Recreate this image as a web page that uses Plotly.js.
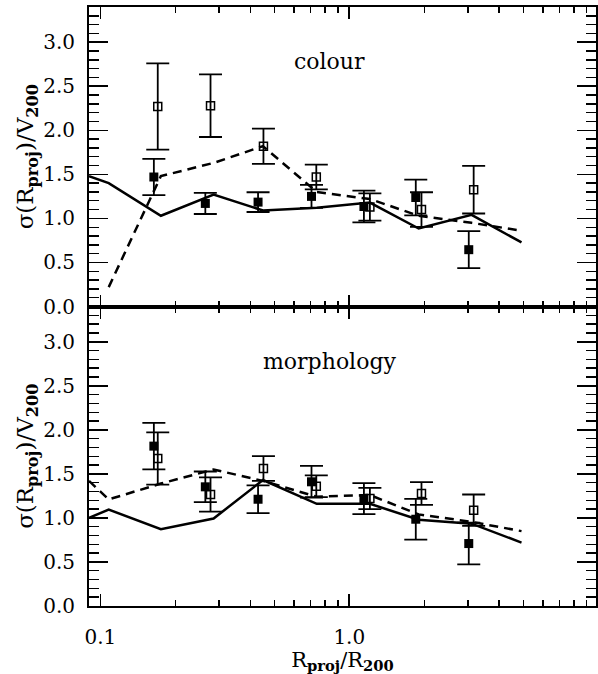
<!DOCTYPE html>
<html>
<head>
<meta charset="utf-8">
<script src="https://cdn.plot.ly/plotly-3.0.1.min.js"></script>
<style>html,body{margin:0;padding:0;background:#fff;}#chart{width:598px;height:674px;}</style>
</head>
<body>
<div id="chart"></div>
<script>
// ---- data ----
var xModel = [0.09, 0.108, 0.175, 0.285, 0.45, 0.74, 1.21, 1.9, 3.1, 4.92];
var colourSolid  = [1.48, 1.40, 1.03, 1.27, 1.09, 1.12, 1.18, 0.885, 1.04, 0.727];
var colourDashed = [null, 0.22, 1.48, 1.63, 1.82, 1.30, 1.22, 1.03, 0.95, 0.86];
var morphSolid   = [1.00, 1.095, 0.872, 0.993, 1.43, 1.16, 1.16, 0.98, 0.935, 0.72];
var morphDashed  = [1.42, 1.21, 1.39, 1.55, 1.42, 1.24, 1.26, 1.04, 0.955, 0.85];

var xFilled = [0.164, 0.264, 0.430, 0.705, 1.145, 1.85, 3.02];
var xOpen   = [0.170, 0.277, 0.452, 0.737, 1.21, 1.95, 3.16];

var colourFilled    = [1.47, 1.17, 1.185, 1.25, 1.135, 1.237, 0.645];
var colourFilledErr = [0.206, 0.12, 0.112, 0.13, 0.18, 0.203, 0.21];
var colourOpen      = [2.27, 2.28, 1.82, 1.47, 1.13, 1.10, 1.326];
var colourOpenErr   = [0.49, 0.356, 0.20, 0.14, 0.155, 0.197, 0.27];

var morphFilled    = [1.815, 1.353, 1.212, 1.41, 1.22, 0.985, 0.709];
var morphFilledErr = [0.265, 0.174, 0.157, 0.18, 0.176, 0.231, 0.237];
var morphOpen      = [1.675, 1.266, 1.561, 1.36, 1.22, 1.277, 1.088];
var morphOpenErr   = [0.297, 0.195, 0.14, 0.123, 0.12, 0.129, 0.178];

var xTickVals = [0.1, 1];
var xTickText = ['0.1', '1.0'];
var xMinorVals = [0.2,0.3,0.4,0.5,0.6,0.7,0.8,0.9,2,3,4,5,6,7,8,9];
var panelLabels = ['colour', 'morphology'];
var yTitle = 'σ(R<sub><b>proj</b></sub>)/V<sub><b>200</b></sub>';
var xTitle = 'R<sub><b>proj</b></sub>/R<sub><b>200</b></sub>';

// ---- styles ----
var FONT = 'DejaVu Serif';
var solidLine = {color: '#000', width: 2.5};
var dashLine = {color: '#000', width: 2.5, dash: '9px,6px'};
function errStyle(arr) {
  return {type: 'data', array: arr, visible: true, color: '#000', thickness: 1.8, width: 11.5};
}
function lineTrace(x, y, line, xa, ya) {
  return {x: x, y: y, mode: 'lines', line: line, xaxis: xa, yaxis: ya, connectgaps: false, hoverinfo: 'skip'};
}
function ptTrace(x, y, err, filled, xa, ya) {
  return {x: x, y: y, mode: 'markers', xaxis: xa, yaxis: ya,
    error_y: errStyle(err),
    marker: filled ? {symbol: 'square', size: 9, color: '#000', line: {width: 0}}
                   : {symbol: 'square-open', size: 8, color: '#000', line: {width: 1.5, color: '#000'}},
    cliponaxis: false};
}

var traces = [
  // top panel: colour
  lineTrace(xModel, colourSolid, solidLine, 'x2', 'y2'),
  lineTrace(xModel, colourDashed, dashLine, 'x2', 'y2'),
  ptTrace(xFilled, colourFilled, colourFilledErr, true, 'x2', 'y2'),
  ptTrace(xOpen, colourOpen, colourOpenErr, false, 'x2', 'y2'),
  // bottom panel: morphology
  lineTrace(xModel, morphSolid, solidLine, 'x', 'y'),
  lineTrace(xModel, morphDashed, dashLine, 'x', 'y'),
  ptTrace(xFilled, morphFilled, morphFilledErr, true, 'x', 'y'),
  ptTrace(xOpen, morphOpen, morphOpenErr, false, 'x', 'y')
];

var xRange = [Math.log10(0.09), Math.log10(9.8)];
function xAxis(showLabels, anchor, extra) {
  var a = {
    type: 'log', range: xRange, anchor: anchor,
    showline: true, linecolor: '#000', linewidth: 2, mirror: 'ticks',
    showgrid: false, zeroline: false,
    ticks: 'inside', ticklen: 12, tickwidth: 1.6, tickcolor: '#000',
    tickmode: 'array', tickvals: xTickVals, ticktext: xTickText,
    showticklabels: showLabels, ticklabelstandoff: 12,
    tickfont: {family: FONT, size: 20, color: '#000'},
    minor: {tickmode: 'array', tickvals: xMinorVals, ticks: 'inside', ticklen: 6, tickwidth: 1.4, tickcolor: '#000', showgrid: false}
  };
  for (var k in extra) a[k] = extra[k];
  return a;
}
function yAxis(domain, anchor) {
  return {
    domain: domain, anchor: anchor, range: [0, 3.4],
    showline: true, linecolor: '#000', linewidth: 2, mirror: 'ticks',
    showgrid: false, zeroline: false,
    ticks: 'inside', ticklen: 19, tickwidth: 1.6, tickcolor: '#000',
    tickmode: 'linear', tick0: 0, dtick: 0.5, tickformat: '.1f',
    ticklabelstandoff: 8,
    tickfont: {family: FONT, size: 20, color: '#000'},
    minor: {dtick: 0.1, ticks: 'inside', ticklen: 10, tickwidth: 1.4, tickcolor: '#000', showgrid: false},
    title: {text: yTitle, font: {family: FONT, size: 23, color: '#000'}, standoff: 3}
  };
}

var layout = {
  width: 598, height: 674,
  margin: {l: 89, r: 2, t: 7, b: 68},
  paper_bgcolor: '#fff', plot_bgcolor: '#fff',
  showlegend: false,
  font: {family: FONT, color: '#000'},
  xaxis: xAxis(true, 'y', {title: {text: xTitle, font: {family: FONT, size: 21, color: '#000'}, standoff: 10}}),
  xaxis2: xAxis(false, 'y2', {matches: 'x'}),
  yaxis: yAxis([0, 0.5], 'x'),
  yaxis2: yAxis([0.5, 1], 'x2'),
  annotations: [
    {text: panelLabels[0], xref: 'paper', yref: 'paper', x: 0.475, y: 0.9087, showarrow: false,
     xanchor: 'center', yanchor: 'middle', font: {family: FONT, size: 22, color: '#000'}},
    {text: panelLabels[1], xref: 'paper', yref: 'paper', x: 0.475, y: 0.408, showarrow: false,
     xanchor: 'center', yanchor: 'middle', font: {family: FONT, size: 22, color: '#000'}}
  ]
};

Plotly.newPlot('chart', traces, layout, {displayModeBar: false, staticPlot: true});
</script>
</body>
</html>
